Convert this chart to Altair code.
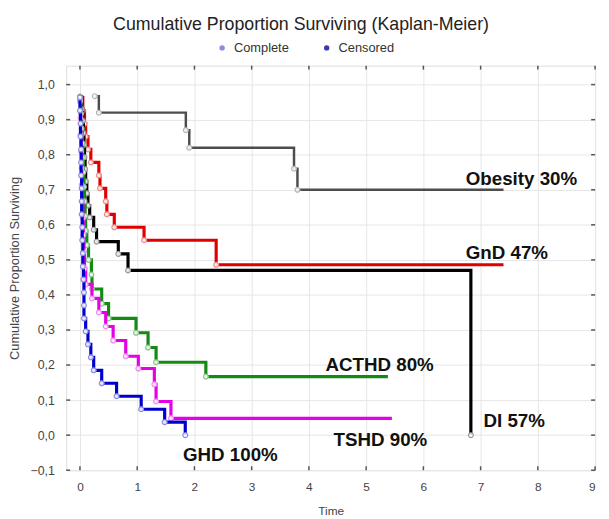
import altair as alt
import pandas as pd

# ---------------- data ----------------
title_text = "Cumulative Proportion Surviving (Kaplan-Meier)"
legend_labels = ["Complete", "Censored"]
x_ticks = [0, 1, 2, 3, 4, 5, 6, 7, 8, 9]
y_ticks = [-0.1, 0.0, 0.1, 0.2, 0.3, 0.4, 0.5, 0.6, 0.7, 0.8, 0.9, 1.0]

groups = ["Obesity", "GnD", "DI", "ACTHD", "TSHD", "GHD"]
curve_labels = ["Obesity 30%", "GnD 47%", "DI 57%", "ACTHD 80%", "TSHD 90%", "GHD 100%"]

obesity_t = [0.26, 0.33, 1.85, 1.91, 3.74, 3.80]
obesity_s = [0.967, 0.920, 0.870, 0.820, 0.760, 0.700]
obesity_end = 7.40

gnd_t = [0.00, 0.05, 0.08, 0.10, 0.14, 0.19, 0.33, 0.35, 0.45, 0.47, 0.60, 1.12, 2.38]
gnd_s = [0.963, 0.926, 0.889, 0.852, 0.815, 0.778, 0.741, 0.704, 0.667, 0.630, 0.593, 0.556, 0.486]
gnd_end = 7.40

di_t = [0.00, 0.03, 0.05, 0.06, 0.07, 0.08, 0.09, 0.10, 0.12, 0.14, 0.17, 0.24, 0.29, 0.67, 0.84, 6.83]
di_s = [0.966, 0.931, 0.897, 0.862, 0.828, 0.793, 0.759, 0.724, 0.690, 0.655, 0.621, 0.586, 0.552, 0.517, 0.470, 0.000]
di_end = None

acthd_t = [0.00, 0.02, 0.03, 0.04, 0.05, 0.06, 0.07, 0.08, 0.09, 0.10, 0.12, 0.15, 0.20, 0.21,
           0.38, 0.50, 0.98, 1.19, 1.33, 2.20]
acthd_s = [0.958, 0.917, 0.875, 0.833, 0.792, 0.750, 0.708, 0.667, 0.625, 0.583, 0.542, 0.500, 0.458, 0.417,
           0.375, 0.333, 0.292, 0.250, 0.208, 0.167]
acthd_end = 5.38

tshd_t = [0.00, 0.01, 0.01, 0.02, 0.03, 0.03, 0.04, 0.05, 0.06, 0.07, 0.08,
          0.10, 0.21, 0.33, 0.45, 0.58, 0.80, 1.02, 1.30, 1.33, 1.59]
tshd_s = [0.952, 0.905, 0.857, 0.810, 0.762, 0.714, 0.667, 0.619, 0.571, 0.524, 0.476,
          0.430, 0.390, 0.350, 0.310, 0.270, 0.225, 0.190, 0.145, 0.096, 0.048]
tshd_end = 5.45

ghd_t = [0.00, 0.00, 0.01, 0.01, 0.02, 0.02, 0.02, 0.03, 0.03, 0.03, 0.04, 0.04, 0.05, 0.05,
         0.06, 0.07, 0.07, 0.07, 0.10, 0.14, 0.19, 0.24, 0.38, 0.64, 1.07, 1.48, 1.84]
ghd_s = [0.963, 0.926, 0.889, 0.852, 0.815, 0.778, 0.741, 0.704, 0.667, 0.630, 0.593, 0.556, 0.519, 0.481,
         0.444, 0.407, 0.370, 0.333, 0.296, 0.259, 0.222, 0.185, 0.148, 0.111, 0.074, 0.037, 0.000]
ghd_end = None

# ---------------- build tables ----------------
series = {
    "Obesity": (obesity_t, obesity_s, obesity_end),
    "GnD": (gnd_t, gnd_s, gnd_end),
    "DI": (di_t, di_s, di_end),
    "ACTHD": (acthd_t, acthd_s, acthd_end),
    "TSHD": (tshd_t, tshd_s, tshd_end),
    "GHD": (ghd_t, ghd_s, ghd_end),
}
line_rows, point_rows = [], []
for g in groups:
    ts, ss, end = series[g]
    for i, (t, s) in enumerate(zip(ts, ss)):
        line_rows.append({"group": g, "time": t, "surv": s, "idx": i})
        point_rows.append({"group": g, "time": t, "surv": s})
    if end is not None:
        line_rows.append({"group": g, "time": end, "surv": ss[-1], "idx": len(ts)})
lines_df = pd.DataFrame(line_rows)
points_df = pd.DataFrame(point_rows)

style = {
    "Obesity": dict(color="#4d4d4d", width=2.5, mstroke="#b5b5b5"),
    "GnD": dict(color="#e00000", width=3.2, mstroke="#f08c8c"),
    "DI": dict(color="#000000", width=3.2, mstroke="#9a9a9a"),
    "ACTHD": dict(color="#138a13", width=3.2, mstroke="#8cc48c"),
    "TSHD": dict(color="#e600e6", width=3.2, mstroke="#f08cf0"),
    "GHD": dict(color="#0000cc", width=3.2, mstroke="#8c8ce8"),
}

# annotation anchors (data units)
label_anchor = {
    "Obesity 30%": (6.74, 0.73),
    "GnD 47%": (6.74, 0.52),
    "DI 57%": (7.05, 0.04),
    "ACTHD 80%": (4.29, 0.20),
    "TSHD 90%": (4.43, -0.014),
    "GHD 100%": (1.80, -0.056),
}
labels_df = pd.DataFrame({
    "label": curve_labels,
    "lx": [label_anchor[l][0] for l in curve_labels],
    "ly": [label_anchor[l][1] for l in curve_labels],
})

W, H = 536, 410
FONT = "Liberation Sans"

xscale = alt.Scale(domain=[-0.24, 9.0], nice=False, zero=False)
yscale = alt.Scale(domain=[-0.1, 1.054], nice=False, zero=False)

xaxis = alt.Axis(values=x_ticks, format="d", grid=True, gridColor="#e6e6e6", ticks=False, domain=False,
                 labelFontSize=12, labelColor="#444", labelPadding=12, labelFont=FONT, labelOverlap=False,
                 title="Time", titleFontSize=12, titleFontWeight="normal", titleColor="#444",
                 titleFont=FONT, titleY=41, titleBaseline="middle")
yaxis = alt.Axis(values=y_ticks, grid=True, gridColor="#e6e6e6", ticks=False, domain=False,
                 labelFontSize=12.5, labelColor="#444", labelPadding=12, labelFont=FONT, labelOverlap=False,
                 labelExpr="replace(format(datum.value, '.1f'), '.', ',')",
                 title="Cumulative Proportion Surviving", titleFontSize=13, titleFontWeight="normal",
                 titleColor="#444", titleFont=FONT, titleX=-52, titleY=H / 2, titleBaseline="middle")


def X(field):
    return alt.X(field, scale=xscale, axis=xaxis)


def Y(field):
    return alt.Y(field, scale=yscale, axis=yaxis)


# inward tick marks on all four sides
xt_df = pd.DataFrame({"v": x_ticks})
yt_df = pd.DataFrame({"v": y_ticks})
tick_style = dict(color="#555", strokeWidth=1.5)
ticks_bottom = alt.Chart(xt_df).mark_rule(**tick_style).encode(
    x=X("v:Q"), y=alt.value(H - 4), y2=alt.value(H))
ticks_top = alt.Chart(xt_df).mark_rule(**tick_style).encode(
    x=X("v:Q"), y=alt.value(0), y2=alt.value(4))
ticks_left = alt.Chart(yt_df).mark_rule(**tick_style).encode(
    y=Y("v:Q"), x=alt.value(0), x2=alt.value(4))
ticks_right = alt.Chart(yt_df).mark_rule(**tick_style).encode(
    y=Y("v:Q"), x=alt.value(W - 4), x2=alt.value(W))

layers = []

for g in groups:
    st = style[g]
    ln = alt.Chart(lines_df).transform_filter(alt.datum.group == g).mark_line(
        interpolate="step-after", color=st["color"], strokeWidth=st["width"]
    ).encode(
        x=X("time:Q"),
        y=Y("surv:Q"),
        order="idx:Q",
    )
    pt = alt.Chart(points_df).transform_filter(alt.datum.group == g).mark_point(
        shape="circle", filled=False, fill="#ffffff", fillOpacity=0.9,
        stroke=st["mstroke"], strokeWidth=1.2, size=24, opacity=1
    ).encode(
        x=X("time:Q"),
        y=Y("surv:Q"),
    )
    layers += [ln, pt]

labels = alt.Chart(labels_df).mark_text(
    align="left", baseline="middle", font=FONT, fontSize=19, fontWeight="bold", color="#111"
).encode(
    x=X("lx:Q"),
    y=Y("ly:Q"),
    text="label:N",
)
layers.append(labels)
layers += [ticks_bottom, ticks_top, ticks_left, ticks_right]

# title and legend (decoration above plot)
title_mark = alt.Chart(pd.DataFrame({"t": [title_text]})).mark_text(
    align="center", baseline="middle", font=FONT, fontSize=18, color="#222"
).encode(x=alt.value(238), y=alt.value(-41), text="t:N")

leg_complete_dot = alt.Chart(pd.DataFrame({"k": [legend_labels[0]]})).mark_point(
    shape="circle", filled=True, color="#8c8ce0", size=30, opacity=1
).encode(x=alt.value(158), y=alt.value(-18))
leg_complete_txt = alt.Chart(pd.DataFrame({"k": [legend_labels[0]]})).mark_text(
    align="left", baseline="middle", font=FONT, fontSize=13, color="#333"
).encode(x=alt.value(170), y=alt.value(-18), text="k:N")
leg_cens_dot = alt.Chart(pd.DataFrame({"k": [legend_labels[1]]})).mark_point(
    shape="circle", filled=True, color="#3a3ab4", size=30, opacity=1
).encode(x=alt.value(264), y=alt.value(-18))
leg_cens_txt = alt.Chart(pd.DataFrame({"k": [legend_labels[1]]})).mark_text(
    align="left", baseline="middle", font=FONT, fontSize=13, color="#333"
).encode(x=alt.value(276), y=alt.value(-18), text="k:N")

layers += [title_mark, leg_complete_dot, leg_complete_txt, leg_cens_dot, leg_cens_txt]

chart = alt.layer(*layers).properties(
    width=W, height=H,
    autosize=alt.AutoSizeParams(type="none"),
    padding={"left": 59, "top": 55, "right": 6, "bottom": 45},
).configure_axis(
    labelOverlap=False
).configure_view(
    stroke="#555", strokeWidth=1.8
).configure(background="white")

chart.save("out.html", embed_options={"renderer": "svg", "actions": False})
